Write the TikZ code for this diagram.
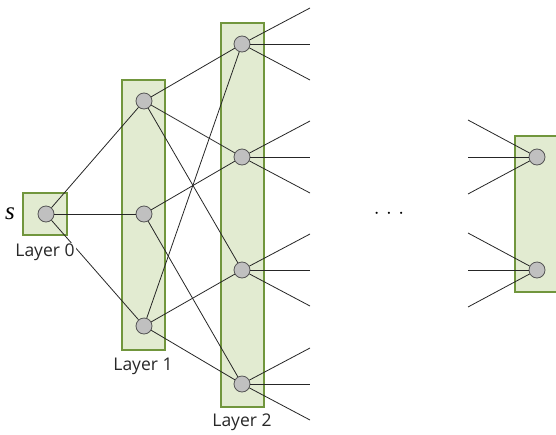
\documentclass[tikz,border=0pt]{standalone}
\usepackage{fontspec}
\setmainfont{Open Sans}
\newfontfamily\symserif{Liberation Serif}
\definecolor{boxfill}{RGB}{226,235,209}
\definecolor{boxedge}{RGB}{113,150,61}
\definecolor{vfill}{RGB}{192,192,192}
\definecolor{vedge}{RGB}{85,85,85}
\definecolor{labelink}{RGB}{40,40,40}
\begin{document}
\begin{tikzpicture}[x=1pt,y=-1pt,
  layerbox/.style={draw=boxedge,fill=boxfill,line width=1.8pt,inner sep=0pt},
  vertex/.style={circle,draw=vedge,fill=vfill,minimum size=16pt,inner sep=0pt,line width=0.8pt},
  link/.style={line width=0.8pt,draw=black!85},
  layerlabel/.style={font=\fontsize{17.5}{20}\selectfont,text=labelink,fill=white,inner sep=1pt}]
\useasboundingbox (0,0) rectangle (556,434);
\clip (0,0) rectangle (556,434);

% layer boxes
\node[layerbox,minimum width=44pt,minimum height=42pt] (box0) at (45,214) {};
\node[layerbox,minimum width=43pt,minimum height=270pt] (box1) at (143.5,215) {};
\node[layerbox,minimum width=43pt,minimum height=384pt] (box2) at (242.5,215) {};
\node[layerbox,minimum width=44pt,minimum height=156pt] (box3) at (537,214) {};

% vertices
\node[vertex] (s) at (46,214) {};
\node[vertex] (a1) at (144,101) {};
\node[vertex] (a2) at (144,214) {};
\node[vertex] (a3) at (144,326) {};
\node[vertex] (b1) at (242,44) {};
\node[vertex] (b2) at (242,157) {};
\node[vertex] (b3) at (242,270) {};
\node[vertex] (b4) at (242,384) {};
\node[vertex] (c1) at (537,157) {};
\node[vertex] (c2) at (537,270) {};

% free ends of the fan-out and fan-in edges
\foreach \n/\y in {b1/44,b2/157,b3/270,b4/384}{
  \coordinate (\n u) at (310,\y-36);
  \coordinate (\n m) at (310,\y);
  \coordinate (\n d) at (310,\y+36);
}
\foreach \n/\y in {c1/157,c2/270}{
  \coordinate (\n u) at (468,\y-37);
  \coordinate (\n m) at (468,\y);
  \coordinate (\n d) at (468,\y+37);
}

% edges between layers
\draw[link] (s) -- (a1);
\draw[link] (s) -- (a2);
\draw[link] (s) -- (a3);
\draw[link] (a1) -- (b1);
\draw[link] (a1) -- (b2);
\draw[link] (a1) -- (b3);
\draw[link] (a2) -- (b2);
\draw[link] (a2) -- (b4);
\draw[link] (a3) -- (b1);
\draw[link] (a3) -- (b3);
\draw[link] (a3) -- (b4);
\foreach \n in {b1,b2,b3,b4}{
  \draw[link] (\n) -- (\n u);
  \draw[link] (\n) -- (\n m);
  \draw[link] (\n) -- (\n d);
}
\foreach \n in {c1,c2}{
  \draw[link] (\n u) -- (\n);
  \draw[link] (\n m) -- (\n);
  \draw[link] (\n d) -- (\n);
}

% labels
\node[font=\symserif\itshape\fontsize{25}{28}\selectfont] (slabel) at (10,213.5) {s};
\node[layerlabel] (lab0) at (45,252) {Layer 0};
\node[layerlabel] (lab1) at (143,366) {Layer 1};
\node[layerlabel] (lab2) at (242,422) {Layer 2};
\node[font=\fontsize{20}{22}\selectfont] (dots) at (389,214) {$\cdot$\hspace{6.5pt}$\cdot$\hspace{6.5pt}$\cdot$};
\end{tikzpicture}
\end{document}
